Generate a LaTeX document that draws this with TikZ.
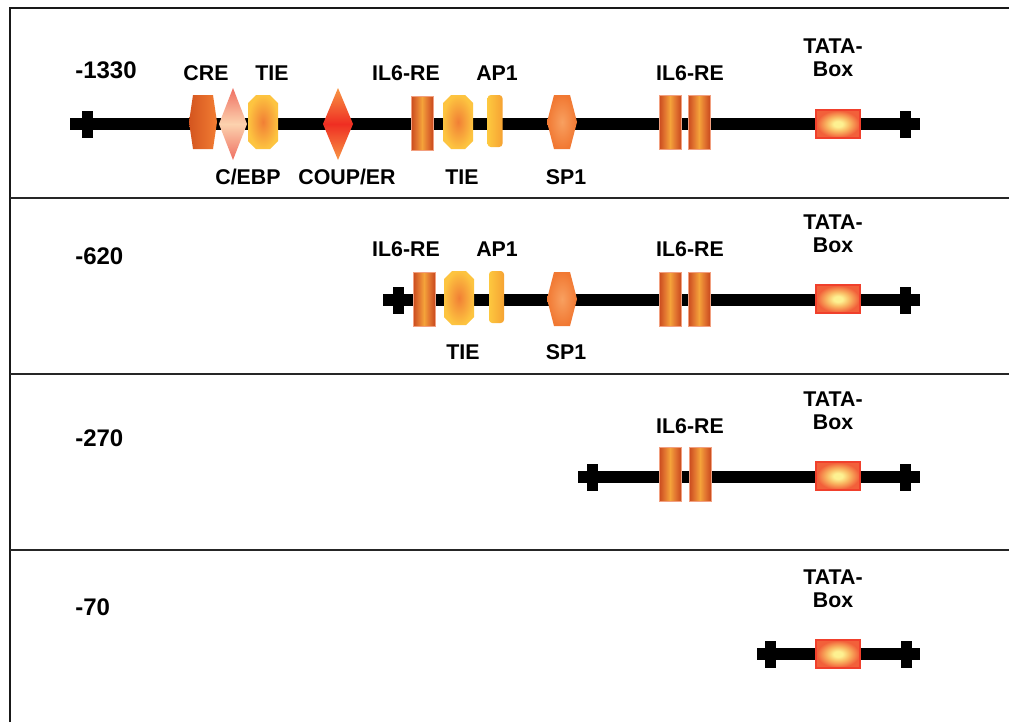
\documentclass[tikz,border=0pt]{standalone}
\usepackage{fontspec}
\setmainfont{Liberation Sans}
\definecolor{il6d}{HTML}{C94A1E}
\definecolor{il6m}{HTML}{E27530}
\definecolor{il6l}{HTML}{F4A33A}
\definecolor{il6b}{HTML}{F2A080}
\definecolor{tatal}{HTML}{FDF191}
\definecolor{tatam}{HTML}{F9B862}
\definecolor{tatad}{HTML}{F2603A}
\definecolor{tatab}{HTML}{F0402C}
\definecolor{tiel}{HTML}{F17F35}
\definecolor{tied}{HTML}{FDC440}
\definecolor{ap1l}{HTML}{FDC83F}
\definecolor{ap1d}{HTML}{F6A233}
\definecolor{sp1l}{HTML}{F8A060}
\definecolor{sp1d}{HTML}{F17832}
\definecolor{cred}{HTML}{D4551F}
\definecolor{crel}{HTML}{F27D33}
\definecolor{cebpd}{HTML}{EF6F62}
\definecolor{cebpl}{HTML}{FCD2AE}
\definecolor{coupd}{HTML}{F89645}
\definecolor{coupl}{HTML}{EF2E22}
\pgfdeclareradialshading{tatashade}{\pgfpoint{0bp}{0bp}}{color(0bp)=(tatal); color(5bp)=(tatal); color(13bp)=(tatam); color(24bp)=(tatad); color(50bp)=(tatad)}
\pgfdeclarehorizontalshading{il6shade}{100bp}{color(0bp)=(il6d); color(25bp)=(il6d); color(38bp)=(il6m); color(50bp)=(il6l); color(62bp)=(il6m); color(75bp)=(il6d); color(100bp)=(il6d)}
\begin{document}
\begin{tikzpicture}[x=0.75pt,y=-0.75pt,
  lbl/.style={font=\fontsize{16}{18}\selectfont\bfseries, inner sep=0pt, align=center},
  num/.style={font=\fontsize{18}{20}\selectfont\bfseries, inner sep=0pt, anchor=west},
  frame/.style={line width=1.6pt, draw=black!90},
  sep/.style={line width=1.2pt, draw=black!85},
  dna/.style={line width=9pt, draw=black},
  il6/.pic={\path[shading=il6shade, draw=il6b, line width=0.6pt] (-11,-27) rectangle (11,27); \coordinate (-c) at (0,0);},
  tata/.pic={\path[shading=tatashade, draw=tatab, line width=1.4pt] (-22,-14) rectangle (22,14); \coordinate (-c) at (0,0);},
  tie/.pic={\path[inner color=tiel, outer color=tied] (-15,-19) -- (-7,-27) -- (7,-27) -- (15,-19) -- (15,19) -- (7,27) -- (-7,27) -- (-15,19) -- cycle; \coordinate (-c) at (0,0);},
  ap1/.pic={\path[left color=ap1l, right color=ap1d, rounded corners=2.5pt] (-7.5,-26) rectangle (7.5,26); \coordinate (-c) at (0,0);},
  sp1/.pic={\path[inner color=sp1l, outer color=sp1d] (-15,0) -- (-8,-27) -- (8,-27) -- (15,0) -- (8,27) -- (-8,27) -- cycle; \coordinate (-c) at (0,0);},
  cre/.pic={\path[left color=cred, right color=crel] (-14,0) -- (-10,-27) -- (10,-27) -- (14,0) -- (10,27) -- (-10,27) -- cycle; \coordinate (-c) at (0,0);},
  cebp/.pic={\path[top color=cebpd, bottom color=cebpd, middle color=cebpl] (-14,0) -- (0,-36) -- (14,0) -- (0,36) -- cycle; \coordinate (-c) at (0,0);},
  coup/.pic={\path[top color=coupd, bottom color=coupd, middle color=coupl] (-15,0) -- (0,-36) -- (15,0) -- (0,36) -- cycle; \coordinate (-c) at (0,0);},
  crossmark/.pic={\path[fill=black] (-5.5,-13.5) rectangle (5.5,13.5); \coordinate (-c) at (0,0);}
]
\useasboundingbox (0,0) rectangle (1009,722);
\fill[white] (0,0) rectangle (1009,722);

% frame
\coordinate (fbl) at (10,722);
\coordinate (ftl) at (10,8);
\coordinate (ftr) at (1009,8);
\draw[frame] (fbl) -- (ftl) -- (ftr);
\coordinate (s1a) at (10,198); \coordinate (s1b) at (1009,198);
\coordinate (s2a) at (10,374); \coordinate (s2b) at (1009,374);
\coordinate (s3a) at (10,550); \coordinate (s3b) at (1009,550);
\draw[sep] (s1a) -- (s1b);
\draw[sep] (s2a) -- (s2b);
\draw[sep] (s3a) -- (s3b);

% ---------- Row 1 ----------
\coordinate (r1a) at (70,124); \coordinate (r1b) at (920,124);
\draw[dna] (r1a) -- (r1b);
\pic (r1x1) at (87,124) {crossmark};
\pic (r1x2) at (905,124) {crossmark};
\pic (r1cre) at (203,122) {cre};
\pic (r1cebp) at (233,124) {cebp};
\pic (r1tie1) at (263,122) {tie};
\pic (r1coup) at (338,124) {coup};
\pic (r1il6a) at (422,123) {il6};
\pic (r1tie2) at (458,122) {tie};
\pic (r1ap1) at (495,121) {ap1};
\pic (r1sp1) at (562,122) {sp1};
\pic (r1il6b) at (670,122) {il6};
\pic (r1il6c) at (699,122) {il6};
\pic (r1tata) at (838,124) {tata};
\node[num] (n1) at (75,70) {-1330};
\node[lbl] (l1cre) at (206,73) {CRE};
\node[lbl] (l1tie) at (272,73) {TIE};
\node[lbl] (l1il6a) at (406,73) {IL6-RE};
\node[lbl] (l1ap1) at (497,73) {AP1};
\node[lbl] (l1il6b) at (690,73) {IL6-RE};
\node[lbl] (l1tata) at (833,58) {TATA-\\[-1pt]Box};
\node[lbl] (l1cebp) at (248,177) {C/EBP};
\node[lbl] (l1coup) at (347,177) {COUP/ER};
\node[lbl] (l1tie2) at (462,177) {TIE};
\node[lbl] (l1sp1) at (566,177) {SP1};

% ---------- Row 2 ----------
\coordinate (r2a) at (383,300); \coordinate (r2b) at (920,300);
\draw[dna] (r2a) -- (r2b);
\pic (r2x1) at (398,300) {crossmark};
\pic (r2x2) at (905,300) {crossmark};
\pic (r2il6a) at (424,299) {il6};
\pic (r2tie) at (459,298) {tie};
\pic (r2ap1) at (496.5,297) {ap1};
\pic (r2sp1) at (562,299) {sp1};
\pic (r2il6b) at (670,299) {il6};
\pic (r2il6c) at (699,299) {il6};
\pic (r2tata) at (838,299) {tata};
\node[num] (n2) at (75,256) {-620};
\node[lbl] (l2il6a) at (406,249) {IL6-RE};
\node[lbl] (l2ap1) at (497,249) {AP1};
\node[lbl] (l2il6b) at (690,249) {IL6-RE};
\node[lbl] (l2tata) at (833,234) {TATA-\\[-1pt]Box};
\node[lbl] (l2tie) at (463,352) {TIE};
\node[lbl] (l2sp1) at (566,352) {SP1};

% ---------- Row 3 ----------
\coordinate (r3a) at (578,477); \coordinate (r3b) at (920,477);
\draw[dna] (r3a) -- (r3b);
\pic (r3x1) at (592,477) {crossmark};
\pic (r3x2) at (905,477) {crossmark};
\pic (r3il6b) at (670,474) {il6};
\pic (r3il6c) at (700,474) {il6};
\pic (r3tata) at (838,476) {tata};
\node[num] (n3) at (75,438) {-270};
\node[lbl] (l3il6) at (690,426) {IL6-RE};
\node[lbl] (l3tata) at (833,411) {TATA-\\[-1pt]Box};

% ---------- Row 4 ----------
\coordinate (r4a) at (757,654); \coordinate (r4b) at (920,654);
\draw[dna] (r4a) -- (r4b);
\pic (r4x1) at (770,654) {crossmark};
\pic (r4x2) at (906,654) {crossmark};
\pic (r4tata) at (838,654) {tata};
\node[num] (n4) at (75,607) {-70};
\node[lbl] (l4tata) at (833,589) {TATA-\\[-1pt]Box};
\end{tikzpicture}
\end{document}
